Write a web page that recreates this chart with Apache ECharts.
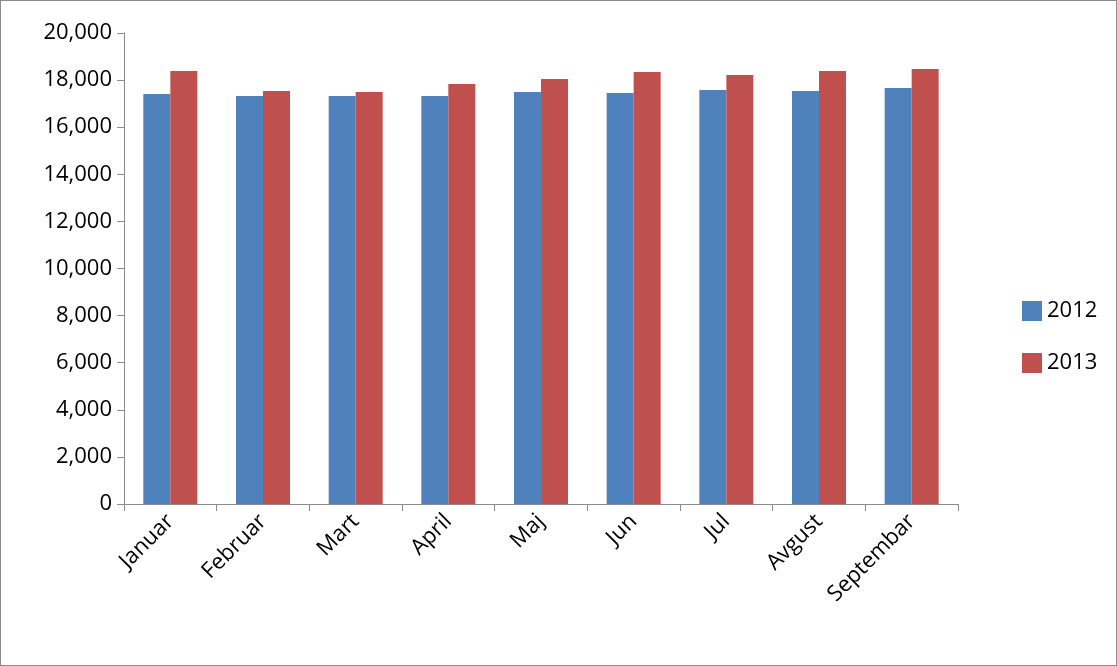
<!DOCTYPE html>
<html>
<head>
<meta charset="utf-8">
<script src="https://cdn.jsdelivr.net/npm/echarts@6/dist/echarts.min.js"></script>
<style>
  html, body { margin: 0; padding: 0; background: #fff; }
  #main { width: 1117px; height: 666px; box-sizing: border-box; border: 1px solid #8c8c8c; }
</style>
</head>
<body>
<div id="main"></div>
<script>
// months and values
var months = ['Januar', 'Februar', 'Mart', 'April', 'Maj', 'Jun', 'Jul', 'Avgust', 'Septembar'];
var values2012 = [17410, 17325, 17325, 17325, 17495, 17452, 17580, 17537, 17665];
var values2013 = [18386, 17537, 17495, 17834, 18047, 18344, 18217, 18386, 18471];

var font = 'Open Sans';
var chart = echarts.init(document.getElementById('main'));
chart.setOption({
    animation: false,
    textStyle: { fontFamily: font },
    grid: { left: 123, right: 158, top: 32, bottom: 161 },
    legend: {
        orient: 'vertical',
        left: 1016,
        top: 294,
        itemGap: 30,
        itemWidth: 20,
        itemHeight: 20,
        icon: 'rect',
        textStyle: { fontSize: 22, color: '#000', fontFamily: font },
        data: ['2012', '2013']
    },
    xAxis: {
        type: 'category',
        data: months,
        axisLine: { lineStyle: { color: '#8c8c8c' } },
        axisTick: { show: true, length: 7, lineStyle: { color: '#8c8c8c' } },
        axisLabel: { rotate: 45, fontSize: 22, color: '#000', margin: 14, interval: 0, fontFamily: font }
    },
    yAxis: {
        type: 'value',
        min: 0,
        max: 20000,
        interval: 2000,
        axisLine: { show: true, lineStyle: { color: '#8c8c8c' } },
        axisTick: { show: true, length: 7, inside: false, lineStyle: { color: '#8c8c8c' } },
        splitLine: { show: false },
        axisLabel: {
            fontSize: 22, color: '#000', margin: 12, fontFamily: font,
            formatter: function (v) { return v.toLocaleString('en-US'); }
        }
    },
    series: [{
        name: '2012',
        type: 'bar',
        data: values2012,
        barWidth: 27,
        barGap: '0%',
        itemStyle: { color: '#4f81bd' }
    }, {
        name: '2013',
        type: 'bar',
        data: values2013,
        barWidth: 27,
        itemStyle: { color: '#c0504d' }
    }]
});
</script>
</body>
</html>
